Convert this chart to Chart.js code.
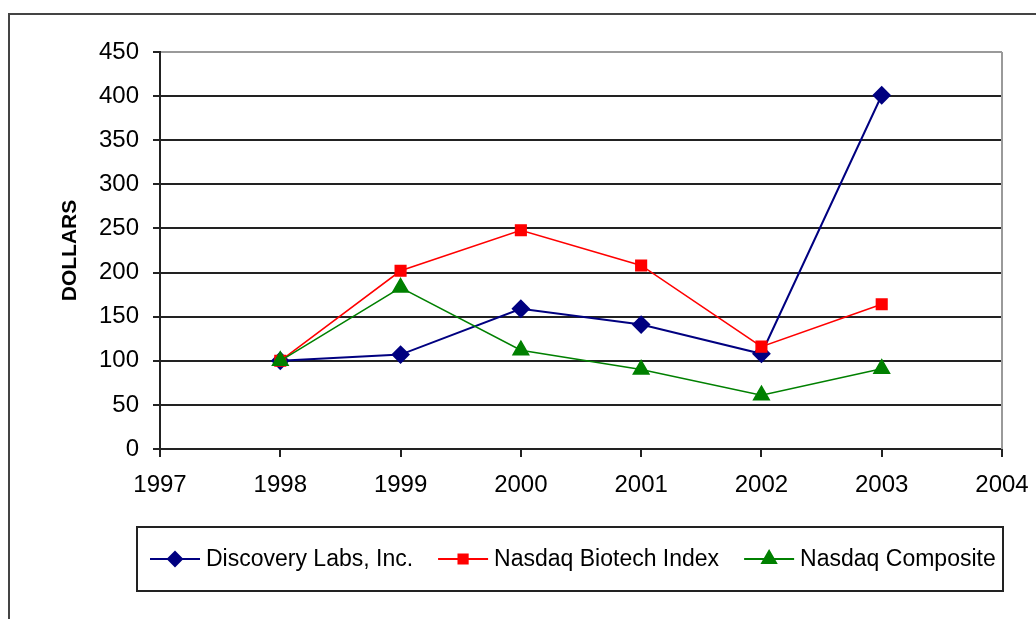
<!DOCTYPE html>
<html>
<head>
<meta charset="utf-8">
<script src="https://cdn.jsdelivr.net/npm/chart.js@4"></script>
<style>
  html, body { margin: 0; padding: 0; background: #fff; }
  #wrap { width: 1036px; height: 619px; position: relative; }
</style>
</head>
<body>
<div id="wrap"><canvas id="chart"></canvas></div>
<script>
// ============ DATA ============
const years      = [1998, 1999, 2000, 2001, 2002, 2003];
const discovery  = [100, 107, 159, 141, 108, 401];
const biotech    = [100, 202, 248, 208, 116, 164];
const composite  = [100, 183, 112, 90, 61, 91];
const seriesNames = ['Discovery Labs, Inc.', 'Nasdaq Biotech Index', 'Nasdaq Composite'];
const yTicks = [0, 50, 100, 150, 200, 250, 300, 350, 400, 450];
const xRange = [1997, 2004];

const FONT = '"Liberation Sans", Arial, sans-serif';
const pts = vals => years.map((y, i) => ({ x: y, y: vals[i] }));

// outer frame + gray right plot border + legend box
const frame = {
  id: 'frame',
  beforeDraw(chart) {
    const c = chart.ctx;
    c.save();
    c.fillStyle = '#fff';
    c.fillRect(0, 0, chart.width, chart.height);
    c.strokeStyle = '#444';
    c.lineWidth = 2;
    c.beginPath();
    c.moveTo(9, chart.height + 5);
    c.lineTo(9, 14);
    c.lineTo(chart.width + 5, 14);
    c.stroke();
    c.restore();
  },
  afterDraw(chart) {
    const c = chart.ctx, a = chart.chartArea;
    c.save();
    c.strokeStyle = '#9a9a9a';
    c.lineWidth = 2;
    c.beginPath();
    c.moveTo(a.right, a.top);
    c.lineTo(a.right, a.bottom);
    c.stroke();

    // legend
    const box = { l: 137, t: 527, r: 1003, b: 591 };
    c.strokeStyle = '#222';
    c.lineWidth = 2;
    c.strokeRect(box.l, box.t, box.r - box.l, box.b - box.t);
    c.font = '23px ' + FONT;
    c.textBaseline = 'middle';
    const ly = (box.t + box.b) / 2;
    let x = 150;
    chart.data.datasets.forEach(ds => {
      c.strokeStyle = ds.borderColor;
      c.lineWidth = 2;
      c.beginPath();
      c.moveTo(x, ly);
      c.lineTo(x + 50, ly);
      c.stroke();
      c.fillStyle = ds.pointBackgroundColor;
      c.strokeStyle = ds.pointBackgroundColor;
      Chart.helpers.drawPoint(c, { pointStyle: ds.pointStyle, radius: ds.pointRadius - 1, rotation: 0, borderWidth: 1 }, x + 25, ly);
      c.fillStyle = '#000';
      c.fillText(ds.label, x + 56, ly + 1);
      x += 56 + c.measureText(ds.label).width + 25;
    });
    c.restore();
  }
};

new Chart(document.getElementById('chart'), {
  type: 'line',
  data: {
    datasets: [
      { label: seriesNames[0], data: pts(discovery), order: 2, borderColor: '#000080', pointBackgroundColor: '#000080', pointBorderColor: '#000080', pointStyle: 'rectRot', pointRadius: 8, borderWidth: 2 },
      { label: seriesNames[1], data: pts(biotech), order: 1, borderColor: '#ff0000', pointBackgroundColor: '#ff0000', pointBorderColor: '#ff0000', pointStyle: 'rect', pointRadius: 7.5, borderWidth: 1.5 },
      { label: seriesNames[2], data: pts(composite), order: 0, borderColor: '#008000', pointBackgroundColor: '#008000', pointBorderColor: '#008000', pointStyle: 'triangle', pointRadius: 9, borderWidth: 1.5 }
    ]
  },
  options: {
    responsive: true,
    maintainAspectRatio: false,
    animation: false,
    layout: { padding: { left: 0, top: 52, right: 34, bottom: 0 } },
    plugins: { legend: { display: false }, tooltip: { enabled: false } },
    elements: { line: { tension: 0 }, point: { borderWidth: 1 } },
    scales: {
      x: {
        type: 'linear', min: xRange[0], max: xRange[1],
        afterFit: s => { s.height = 170; s.paddingLeft = 0; s.paddingRight = 0; },
        ticks: { stepSize: 1, padding: 14, color: '#000', font: { family: FONT, size: 24 }, callback: v => String(v), maxRotation: 0 },
        grid: { drawOnChartArea: false, drawTicks: true, tickLength: 8, tickColor: '#222', lineWidth: 2 },
        border: { display: true, color: '#222', width: 2 }
      },
      y: {
        min: yTicks[0], max: yTicks[yTicks.length - 1],
        afterFit: s => { s.width = 160; s.paddingTop = 0; s.paddingBottom = 0; },
        afterBuildTicks: s => { s.ticks = yTicks.map(v => ({ value: v })); },
        ticks: { padding: 14, color: '#000', font: { family: FONT, size: 24 } },
        grid: { color: ctx => (ctx.tick && ctx.tick.value === 450 ? '#9a9a9a' : '#222'), tickColor: '#222', lineWidth: 2, tickLength: 7 },
        border: { display: true, color: '#222', width: 2 },
        title: { display: true, text: 'DOLLARS', color: '#000', font: { family: FONT, size: 21, weight: 'bold' }, padding: { top: 58 } }
      }
    }
  },
  plugins: [frame]
});
</script>
</body>
</html>
